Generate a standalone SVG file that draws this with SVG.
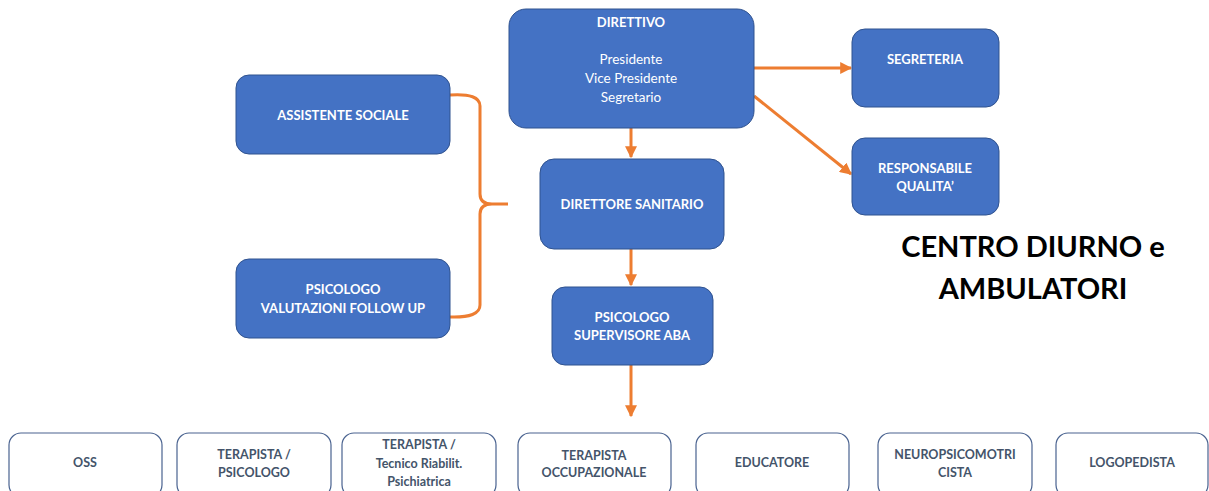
<svg xmlns="http://www.w3.org/2000/svg" width="1209" height="491" viewBox="0 0 1209 491">
<style>
.blue{fill:#4472C4;stroke:#2F528F;stroke-width:1}
.white{fill:#FFFFFF;stroke:#4A6390;stroke-width:1.2}
.wt{font-family:Lato,"Liberation Sans",sans-serif;font-weight:bold;font-size:13px;fill:#FFFFFF;text-anchor:middle;dominant-baseline:central}
.wn{font-family:Lato,"Liberation Sans",sans-serif;font-size:13.5px;fill:#FFFFFF;text-anchor:middle;dominant-baseline:central}
.dt{font-family:Lato,"Liberation Sans",sans-serif;font-weight:bold;font-size:12.5px;fill:#44546A;text-anchor:middle;dominant-baseline:central}
.big{font-family:Lato,"Liberation Sans",sans-serif;font-weight:bold;font-size:29px;fill:#000000;text-anchor:middle;dominant-baseline:central}
.con{fill:none;stroke:#ED7D31;stroke-width:3}
</style>
<defs>
<marker id="arr" viewBox="0 0 10 10" refX="9" refY="5" markerWidth="4" markerHeight="4" orient="auto" markerUnits="strokeWidth">
<path d="M0,0 L10,5 L0,10 z" fill="#ED7D31"/>
</marker>
</defs>
<rect width="1209" height="491" fill="#FFFFFF"/>
<g id="connectors">
<line class="con" x1="631" y1="128" x2="631" y2="157" marker-end="url(#arr)"/>
<line class="con" x1="631" y1="249" x2="631" y2="285" marker-end="url(#arr)"/>
<line class="con" x1="631" y1="365" x2="631" y2="416" marker-end="url(#arr)"/>
<line class="con" x1="754" y1="68" x2="851" y2="68" marker-end="url(#arr)"/>
<line class="con" x1="754" y1="96" x2="851" y2="174" marker-end="url(#arr)"/>
<path class="con" d="M450,95 Q480,93 480,106 L480,194 Q480,204 492,204 L508,204 M492,204 Q480,204 480,214 L480,305 Q480,318 450,317"/>
</g>
<g id="direttivo">
<rect class="blue" x="509" y="9" width="245" height="119" rx="17"/>
<text class="wt" x="631" y="22">DIRETTIVO</text>
<text class="wn" x="631" y="59">Presidente</text>
<text class="wn" x="631" y="78">Vice Presidente</text>
<text class="wn" x="631" y="97">Segretario</text>
</g>
<g id="segreteria">
<rect class="blue" x="852" y="29" width="147" height="78" rx="13"/>
<text class="wt" x="925" y="59">SEGRETERIA</text>
</g>
<g id="responsabile">
<rect class="blue" x="852" y="138" width="147" height="77" rx="13"/>
<text class="wt" x="925" y="168">RESPONSABILE</text>
<text class="wt" x="925" y="186">QUALITA’</text>
</g>
<g id="assistente">
<rect class="blue" x="236" y="75" width="214" height="79" rx="13"/>
<text class="wt" x="343" y="115">ASSISTENTE SOCIALE</text>
</g>
<g id="psicologo-valutazioni">
<rect class="blue" x="236" y="259" width="214" height="79" rx="13"/>
<text class="wt" x="343" y="289">PSICOLOGO</text>
<text class="wt" x="343" y="308">VALUTAZIONI FOLLOW UP</text>
</g>
<g id="direttore">
<rect class="blue" x="540" y="159" width="184" height="90" rx="14"/>
<text class="wt" x="632" y="204">DIRETTORE SANITARIO</text>
</g>
<g id="supervisore">
<rect class="blue" x="552" y="287" width="161" height="78" rx="13"/>
<text class="wt" x="632" y="317">PSICOLOGO</text>
<text class="wt" x="632" y="335">SUPERVISORE ABA</text>
</g>
<g id="titolo">
<text class="big" x="1033" y="245">CENTRO DIURNO e</text>
<text class="big" x="1033" y="287">AMBULATORI</text>
</g>
<g id="oss">
<rect class="white" x="9" y="433" width="153" height="64" rx="12"/>
<text class="dt" x="85" y="462">OSS</text>
</g>
<g id="terapista-psicologo">
<rect class="white" x="177" y="433" width="154" height="64" rx="12"/>
<text class="dt" x="254" y="454">TERAPISTA /</text>
<text class="dt" x="254" y="472">PSICOLOGO</text>
</g>
<g id="terapista-tecnico">
<rect class="white" x="342" y="433" width="154" height="64" rx="12"/>
<text class="dt" x="419" y="444">TERAPISTA /</text>
<text class="dt" x="419" y="463">Tecnico Riabilit.</text>
<text class="dt" x="419" y="481">Psichiatrica</text>
</g>
<g id="terapista-occupazionale">
<rect class="white" x="518" y="433" width="153" height="64" rx="12"/>
<text class="dt" x="594" y="455">TERAPISTA</text>
<text class="dt" x="594" y="472">OCCUPAZIONALE</text>
</g>
<g id="educatore">
<rect class="white" x="696" y="433" width="153" height="64" rx="12"/>
<text class="dt" x="772" y="462">EDUCATORE</text>
</g>
<g id="neuro">
<rect class="white" x="878" y="433" width="154" height="64" rx="12"/>
<text class="dt" x="955" y="454">NEUROPSICOMOTRI</text>
<text class="dt" x="955" y="472">CISTA</text>
</g>
<g id="logopedista">
<rect class="white" x="1056" y="433" width="152" height="64" rx="12"/>
<text class="dt" x="1132" y="462">LOGOPEDISTA</text>
</g>
</svg>
